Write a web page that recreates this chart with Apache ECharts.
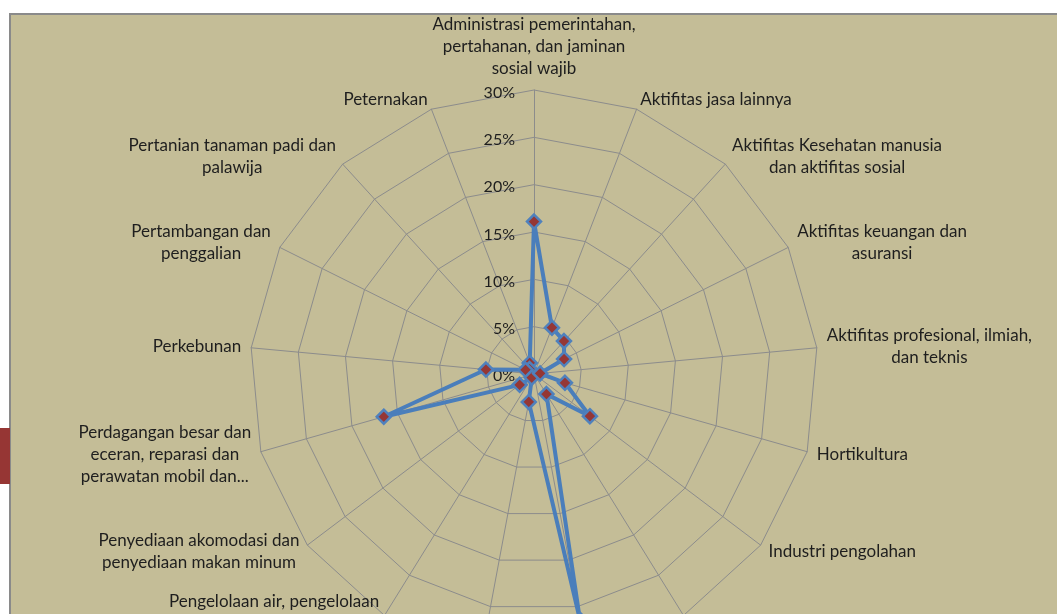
<!DOCTYPE html>
<html>
<head>
<meta charset="utf-8">
<title>Radar lapangan usaha</title>
<script src="https://cdn.jsdelivr.net/npm/echarts@6.0.0/dist/echarts.min.js"></script>
<style>
    html, body { margin: 0; padding: 0; background: #fff; }
    #main { width: 1057px; height: 614px; }
</style>
</head>
<body>
<div id="main"></div>
<script>
"use strict";

// kategori (urut searah jarum jam mulai dari atas)
var categories = [
    "Administrasi pemerintahan,\npertahanan, dan jaminan\nsosial wajib",
    "Aktifitas jasa lainnya",
    "Aktifitas Kesehatan manusia\ndan aktifitas sosial",
    "Aktifitas keuangan dan\nasuransi",
    "Aktifitas profesional, ilmiah,\ndan teknis",
    "Hortikultura",
    "Industri pengolahan",
    "Informasi dan komunikasi",
    "Jasa pendidikan",
    "Konstruksi",
    "Pengelolaan air, pengelolaan\nsampah, limbah dan daur\nulang",
    "Penyediaan akomodasi dan\npenyediaan makan minum",
    "Perdagangan besar dan\neceran, reparasi dan\nperawatan mobil dan...",
    "Perkebunan",
    "Pertambangan dan\npenggalian",
    "Pertanian tanaman padi dan\npalawija",
    "Peternakan"
];

// persentase (%)
var values = [16.1, 5.25, 4.7, 3.55, 0.65, 3.4, 7.4, 2.5, 26.4, 3.0, 0.45, 1.9, 16.5, 5.1, 1.0, 0.7, 1.25];

var tickLabels = ["0%", "5%", "10%", "15%", "20%", "25%", "30%"];
var maxValue = 30;

var textColor = "#1e1e1e";
var fontFam = "Lato, 'Open Sans', sans-serif";

// radar echarts berjalan berlawanan jarum jam, jadi urutannya dibalik
var order = [0];
for (var i = categories.length - 1; i > 0; i--) {
    order.push(i);
}
var indicators = order.map(function (idx) {
    return { name: categories[idx], max: maxValue, min: 0 };
});
var seriesValues = order.map(function (idx) {
    return values[idx];
});

var myChart = echarts.init(document.getElementById("main"));

myChart.setOption({
    backgroundColor: "#ffffff",
    animation: false,
    graphic: [
        {
            type: "rect",
            z: -10,
            shape: { x: 10, y: 14, width: 1060, height: 620 },
            style: { fill: "#c4bd97", stroke: "#8a8a8a", lineWidth: 2 }
        },
        {
            type: "rect",
            z: -10,
            shape: { x: 0, y: 428, width: 10, height: 56 },
            style: { fill: "#963634" }
        }
    ],
    radar: {
        center: [534, 374],
        radius: 284,
        startAngle: 90,
        splitNumber: 6,
        shape: "polygon",
        indicator: indicators,
        nameGap: 10,
        axisName: {
            color: textColor,
            fontFamily: fontFam,
            fontSize: 17,
            lineHeight: 22,
            formatter: function (name) {
                return name.split("\n").map(function (s) {
                    return "{c|" + s + "}";
                }).join("\n");
            },
            rich: {
                c: {
                    align: "center",
                    color: textColor,
                    fontFamily: fontFam,
                    fontSize: 17,
                    lineHeight: 22
                }
            }
        },
        axisLine: { lineStyle: { color: "#8c8c8c", width: 1 } },
        splitLine: { lineStyle: { color: "#8c8c8c", width: 1 } },
        splitArea: { show: false },
        axisTick: { show: false },
        axisLabel: { show: false }
    },
    // sumbu bantu hanya untuk label persentase di sumbu atas
    grid: { left: 534, top: 93, width: 10, height: 283 },
    xAxis: { type: "value", show: false },
    yAxis: {
        type: "category",
        data: tickLabels,
        boundaryGap: false,
        axisLine: { show: false },
        axisTick: { show: false },
        splitLine: { show: false },
        axisLabel: {
            interval: 0,
            margin: 19,
            color: textColor,
            fontFamily: fontFam,
            fontSize: 16
        }
    },
    series: [{
        type: "radar",
        symbol: "diamond",
        symbolSize: 14,
        itemStyle: { color: "#953735", borderColor: "#4f81bd", borderWidth: 2.5 },
        lineStyle: { color: "#4a7ebb", width: 4 },
        data: [{ value: seriesValues, name: "Persentase" }]
    }]
});
</script>
</body>
</html>
